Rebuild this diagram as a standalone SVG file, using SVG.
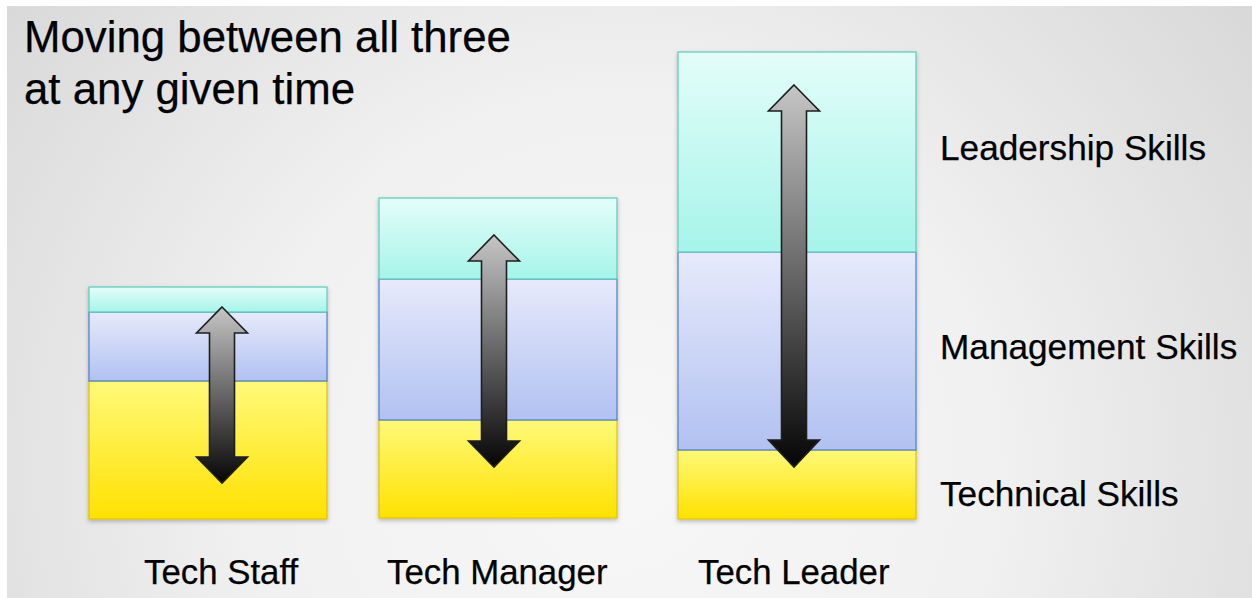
<svg xmlns="http://www.w3.org/2000/svg" width="1252" height="598" viewBox="0 0 1252 598">
  <defs>
    <radialGradient id="bg" cx="620" cy="470" r="820" gradientUnits="userSpaceOnUse">
      <stop offset="0" stop-color="#f7f7f7"/>
      <stop offset="0.45" stop-color="#f1f1f1"/>
      <stop offset="1" stop-color="#d6d6d6"/>
    </radialGradient>
    <linearGradient id="gLead" x1="0" y1="0" x2="0" y2="1">
      <stop offset="0" stop-color="#e4fdf9"/>
      <stop offset="1" stop-color="#a6f4ea"/>
    </linearGradient>
    <linearGradient id="gMgmt" x1="0" y1="0" x2="0" y2="1">
      <stop offset="0" stop-color="#e7eafb"/>
      <stop offset="1" stop-color="#b1c1f1"/>
    </linearGradient>
    <linearGradient id="gTech" x1="0" y1="0" x2="0" y2="1">
      <stop offset="0" stop-color="#fff97a"/>
      <stop offset="1" stop-color="#ffe100"/>
    </linearGradient>
    <linearGradient id="gArrow" x1="0" y1="0" x2="0" y2="1">
      <stop offset="0" stop-color="#c6c6c6"/>
      <stop offset="1" stop-color="#050505"/>
    </linearGradient>
    <filter id="shadow" x="-10%" y="-10%" width="120%" height="120%">
      <feDropShadow dx="0" dy="2" stdDeviation="2" flood-color="#000" flood-opacity="0.25"/>
    </filter>
  </defs>
  <style>
    .lead { fill: url(#gLead); stroke: #5ccab9; stroke-width: 1.2; }
    .mgmt { fill: url(#gMgmt); stroke: #4a7fca; stroke-width: 1.2; }
    .tech { fill: url(#gTech); stroke: #e2c200; stroke-width: 1.2; }
    .arrow { fill: url(#gArrow); stroke: #1e1e1e; stroke-width: 1.6; stroke-linejoin: miter; }
    text { font-family: "Liberation Sans", Arial, Helvetica, sans-serif; fill: #000; stroke: #000; stroke-width: 0.25; }
    .title { font-size: 43.8px; }
    .skill { font-size: 35.2px; }
    .role { font-size: 34.8px; }
  </style>

  <!-- backdrop -->
  <rect x="0" y="0" width="1252" height="598" fill="#ffffff"/>
  <rect x="7" y="6" width="1245" height="592" fill="url(#bg)"/>

  <!-- heading -->
  <g id="title">
    <text class="title" x="24" y="52">Moving between all three</text>
    <text class="title" x="24" y="104">at any given time</text>
  </g>

  <!-- column: Tech Staff -->
  <g id="tech-staff">
    <g filter="url(#shadow)">
      <rect class="tech" x="89" y="381" width="238" height="138"/>
      <rect class="mgmt" x="89" y="312" width="238" height="69"/>
      <rect class="lead" x="89" y="287" width="238" height="25"/>
    </g>
    <text class="role" x="144" y="584">Tech Staff</text>
  </g>

  <!-- column: Tech Manager -->
  <g id="tech-manager">
    <g filter="url(#shadow)">
      <rect class="tech" x="379" y="420" width="238" height="98"/>
      <rect class="mgmt" x="379" y="279" width="238" height="141"/>
      <rect class="lead" x="379" y="198" width="238" height="81"/>
    </g>
    <text class="role" x="387" y="584">Tech Manager</text>
  </g>

  <!-- column: Tech Leader -->
  <g id="tech-leader">
    <g filter="url(#shadow)">
      <rect class="tech" x="678" y="450" width="238" height="69"/>
      <rect class="mgmt" x="678" y="252" width="238" height="198"/>
      <rect class="lead" x="678" y="52" width="238" height="200"/>
    </g>
    <text class="role" x="698" y="584">Tech Leader</text>
  </g>

  <!-- skill legend -->
  <g id="skill-labels">
    <text class="skill" x="940" y="160">Leadership Skills</text>
    <text class="skill" x="940" y="359">Management Skills</text>
    <text class="skill" x="940" y="506">Technical Skills</text>
  </g>

  <!-- double-headed movement arrows -->
  <g id="connectors">
    <path class="arrow" d="M222 307 L247.5 333 L234.5 333 L234.5 457 L247.5 457 L222 483 L196.5 457 L209.5 457 L209.5 333 L196.5 333 Z"/>
    <path class="arrow" d="M494 235 L519.5 261 L506.5 261 L506.5 441 L519.5 441 L494 467 L468.5 441 L481.5 441 L481.5 261 L468.5 261 Z"/>
    <path class="arrow" d="M794 85 L819.5 111 L806.5 111 L806.5 440 L819.5 440 L794 467 L768.5 440 L781.5 440 L781.5 111 L768.5 111 Z"/>
  </g>
</svg>
